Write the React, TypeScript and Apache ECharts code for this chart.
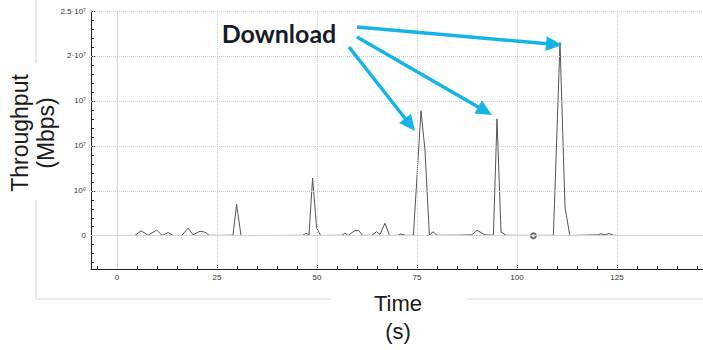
import React, { useEffect, useRef } from "react";
import * as echarts from "echarts";

// ---- data ----
const times: number[] = [
  0, 2, 4.5, 6, 7.8, 9.9, 11.3, 12.8, 14, 16.2, 17.8, 19, 20.75, 22, 23, 26, 29, 29.9, 31, 40,
  46.4, 47.2, 48, 48.9, 49.9, 50.9, 56.2, 57, 57.8, 59.5, 60.5, 61.4, 63.7, 64.9, 65.75, 67, 68.1,
  70.3, 71, 72, 74.1, 76, 77, 78.1, 79, 80, 85, 88.7, 90, 92, 94.1, 95, 96, 97.25, 104.1, 109.1,
  110.75, 112, 113.2, 120.3, 121, 121.8, 123, 124.1, 126.2,
];
const throughput: number[] = [
  20000, 30000, 40000, 550000, 50000, 630000, 30000, 370000, 20000, 40000, 850000, 100000, 500000,
  400000, 50000, 40000, 60000, 3500000, 20000, 30000,
  40000, 260000, 100000, 6400000, 900000, 30000, 50000, 300000, 30000, 600000, 550000, 30000, 50000,
  450000, 150000, 1400000, 30000,
  50000, 200000, 50000, 50000, 13900000, 9500000, 30000, 450000, 50000, 60000, 100000, 600000,
  100000, 50000, 13000000, 400000, 50000, 30000, 50000,
  21500000, 3200000, 30000, 100000, 220000, 100000, 250000, 50000, 20000,
];
const markerTimes: number[] = [104.1];
const markerValues: number[] = [0];

const xTickValues: number[] = [0, 25, 50, 75, 100, 125];
const xTickLabels: string[] = ["0", "25", "50", "75", "100", "125"];
const xMinorTicks: number[] = [
  -5, 5, 10, 15, 20, 30, 35, 40, 45, 55, 60, 65, 70, 80, 85, 90, 95, 105, 110, 115, 120, 130, 135,
  140, 145,
];
const yTickValues: number[] = [0, 5e6, 1e7, 1.5e7, 2e7, 2.5e7];
const yTickLabels: string[] = ["0", "10⁶", "10⁷", "10⁷", "2·10⁷", "2.5·10⁷"];
const yMinorTicks: number[] = [
  -3e6, -2e6, -1e6, 1e6, 2e6, 3e6, 4e6, 6e6, 7e6, 8e6, 9e6, 11e6, 12e6, 13e6, 14e6, 16e6, 17e6,
  18e6, 19e6, 21e6, 22e6, 23e6, 24e6,
];

const annotationText = "Download";
const yTitle = "Throughput\n(Mbps)";
const xTitle = "Time\n(s)";

const ARROW = "#14b4e8";

function arrow(sx: number, sy: number, tx: number, ty: number) {
  const dx = tx - sx;
  const dy = ty - sy;
  const len = Math.sqrt(dx * dx + dy * dy);
  const ux = dx / len;
  const uy = dy / len;
  const L = 16;
  const W = 7.5;
  const bx = tx - ux * L;
  const by = ty - uy * L;
  const px = -uy;
  const py = ux;
  return [
    {
      type: "line",
      shape: { x1: sx, y1: sy, x2: bx + ux * 2, y2: by + uy * 2 },
      style: { stroke: ARROW, lineWidth: 3.5 },
      z: 100,
    },
    {
      type: "polygon",
      shape: {
        points: [
          [tx, ty],
          [bx + px * W, by + py * W],
          [bx - px * W, by - py * W],
        ],
      },
      style: { fill: ARROW },
      z: 100,
    },
  ];
}

export default function App() {
  const ref = useRef<HTMLDivElement>(null);
  useEffect(() => {
    if (!ref.current) return;
    const chart = echarts.init(ref.current, null, { renderer: "svg" });
    const lineData = times.map((t, i) => [t, throughput[i]]);
    const markerData = markerTimes.map((t, i) => [t, markerValues[i]]);
    const dotted = { type: "dotted", color: "#cfcfcf", width: 1 };
    const solid = { type: "solid", color: "#d6d6d6", width: 1 };
    const gridMarks = [
      ...xTickValues.map((v) => ({ xAxis: v, lineStyle: v === 0 ? solid : dotted })),
      ...yTickValues.map((v) => ({ yAxis: v, lineStyle: v === 0 ? solid : dotted })),
    ];
    const labelStyle = { color: "#333", fontSize: 8, fontFamily: "Liberation Sans" };
    chart.setOption({
      animation: false,
      grid: { left: 91, top: 11, right: 0, bottom: 81, containLabel: false },
      xAxis: [
        {
          type: "value",
          min: -6.5,
          max: 146.5,
          axisLine: { show: true, onZero: false, lineStyle: { color: "#222", width: 1 } },
          axisTick: { show: true, inside: true, length: 5, customValues: xTickValues, lineStyle: { color: "#222" } },
          axisLabel: {
            ...labelStyle,
            margin: 4,
            customValues: xTickValues,
            formatter: (v: number) => {
              const i = xTickValues.findIndex((x) => Math.abs(x - v) < 1e-6);
              return i >= 0 ? xTickLabels[i] : "";
            },
          },
          splitLine: { show: false },
        },
        {
          type: "value",
          min: -6.5,
          max: 146.5,
          position: "bottom",
          axisLine: { show: false, onZero: false },
          axisTick: { show: true, inside: true, length: 3, customValues: xMinorTicks, lineStyle: { color: "#222" } },
          axisLabel: { show: false },
          splitLine: { show: false },
        },
      ],
      yAxis: [
        {
          type: "value",
          min: -3.7e6,
          max: 2.5e7,
          axisLine: { show: true, onZero: false, lineStyle: { color: "#222", width: 1 } },
          axisTick: { show: true, inside: true, length: 5, customValues: yTickValues, lineStyle: { color: "#222" } },
          axisLabel: {
            ...labelStyle,
            margin: 5,
            customValues: yTickValues,
            formatter: (v: number) => {
              const i = yTickValues.findIndex((x) => Math.abs(x - v) < 1);
              return i >= 0 ? yTickLabels[i] : "";
            },
          },
          splitLine: { show: false },
        },
        {
          type: "value",
          min: -3.7e6,
          max: 2.5e7,
          position: "left",
          axisLine: { show: false, onZero: false },
          axisTick: { show: true, inside: true, length: 3, customValues: yMinorTicks, lineStyle: { color: "#222" } },
          axisLabel: { show: false },
          splitLine: { show: false },
        },
      ],
      series: [
        {
          type: "line",
          data: lineData,
          xAxisIndex: 0,
          yAxisIndex: 0,
          showSymbol: false,
          symbol: "none",
          lineStyle: { color: "#fff", width: 0, opacity: 0 },
          z: 1,
          silent: true,
          markLine: {
            silent: true,
            symbol: ["none", "none"],
            label: { show: false },
            data: gridMarks,
          },
        },
        {
          type: "line",
          data: lineData,
          xAxisIndex: 0,
          yAxisIndex: 0,
          showSymbol: false,
          symbol: "none",
          lineStyle: { color: "#555", width: 1 },
          z: 3,
        },
        {
          type: "scatter",
          data: markerData,
          symbol: "emptyCircle",
          symbolSize: 5,
          itemStyle: { color: "#444", borderColor: "#444", borderWidth: 1 },
          z: 4,
        },
      ],
      graphic: [
        {
          type: "line",
          shape: { x1: 36, y1: 0, x2: 36, y2: 63 },
          style: { stroke: "#ebebeb", lineWidth: 2 },
        },
        {
          type: "line",
          shape: { x1: 36, y1: 200, x2: 36, y2: 299 },
          style: { stroke: "#ebebeb", lineWidth: 2 },
        },
        {
          type: "line",
          shape: { x1: 35, y1: 299, x2: 331, y2: 299 },
          style: { stroke: "#ebebeb", lineWidth: 2 },
        },
        {
          type: "line",
          shape: { x1: 467, y1: 299, x2: 703, y2: 299 },
          style: { stroke: "#ebebeb", lineWidth: 2 },
        },
        {
          type: "text",
          x: 33,
          y: 133,
          rotation: Math.PI / 2,
          style: {
            text: yTitle,
            fill: "#1a1a1a",
            fontSize: 23,
            fontFamily: "Liberation Sans",
            lineHeight: 26,
            align: "center",
            verticalAlign: "middle",
          },
        },
        {
          type: "text",
          x: 398,
          y: 317,
          style: {
            text: xTitle,
            fill: "#1a1a1a",
            fontSize: 22,
            fontFamily: "Liberation Sans",
            lineHeight: 28,
            align: "center",
            verticalAlign: "middle",
          },
        },
        {
          type: "text",
          x: 279,
          y: 33,
          style: {
            text: annotationText,
            fill: "#161c28",
            fontSize: 25,
            fontWeight: "bold",
            fontFamily: "Lato",
            align: "center",
            verticalAlign: "middle",
          },
          z: 100,
        },
        ...arrow(357, 27, 562, 45),
        ...arrow(357, 37, 492, 115),
        ...arrow(349, 47, 415, 131),
      ],
    });
    return () => chart.dispose();
  }, []);
  return (
    <div
      ref={ref}
      style={{ position: "fixed", left: 0, top: 0, width: 703, height: 350, background: "#fff" }}
    />
  );
}
